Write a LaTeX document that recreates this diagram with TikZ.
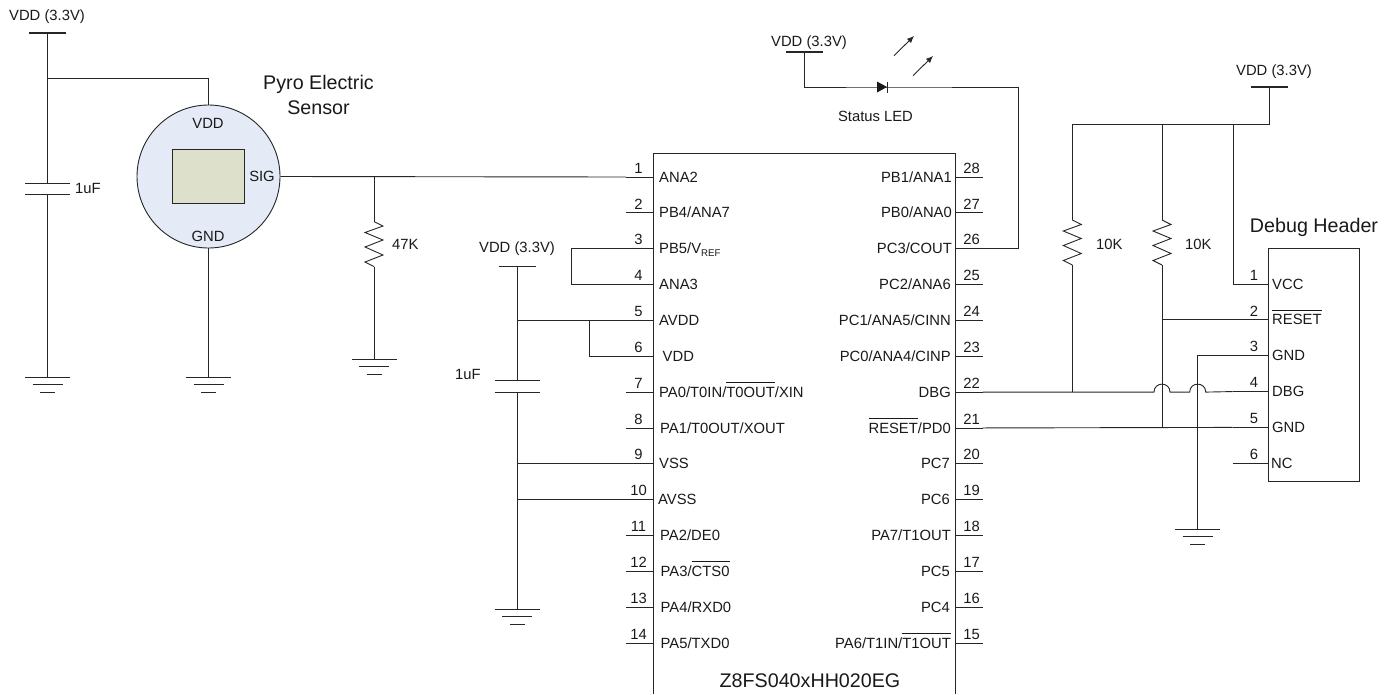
\documentclass[tikz,border=0pt]{standalone}
\usepackage{fontspec}
\usepackage{tikz}
\usetikzlibrary{arrows.meta}
\setmainfont{Liberation Sans}

\newcommand{\nbar}[1]{\ensuremath{\overline{\hbox{\vrule height 0.92em width 0pt #1}}}}

\tikzset{
  wire/.style={line width=0.9pt,draw=black!85},
  small/.style={font=\fontsize{14.8}{17}\selectfont,text=black!90,inner sep=0pt},
  big/.style={font=\fontsize{19.7}{25}\selectfont,text=black!90,inner sep=0pt,align=center},
  gndsym/.pic={\draw[wire] (-22.5,0) -- (22.5,0);
    \draw[wire] (-15,7.5) -- (15,7.5);
    \draw[wire] (-7.5,15) -- (7.5,15);},
  vddsym/.pic={\draw[line width=1.2pt,draw=black!85] (-18.5,0) -- (18.5,0);},
  capsym/.pic={\draw[wire] (-22.5,0) -- (22.5,0);
    \draw[wire] (-22.5,11.5) -- (22.5,11.5);},
  ressym/.pic={\draw[wire] (0,0) -- (9,4.5) -- (-9,11) -- (9,18.5) -- (-9,25.5) -- (9,33.5) -- (-9,40.5) -- (0,45);}
}

\begin{document}
\begin{tikzpicture}[x=1pt,y=-1pt]
    \useasboundingbox (0,0) rectangle (1395,694);

    % chip outline, cut by the page bottom
    \draw[wire] (653,694) -- (653,153.5) -- (955.5,153.5) -- (955.5,694);
    \node[big] (chipname) at (810,681) {Z8FS040xHH020EG};

    \foreach \n/\lx/\lbl in {1/659/ANA2,2/659/{PB4/ANA7},3/659/{PB5/V{\raisebox{-0.3ex}{\fontsize{9.7}{10}\selectfont REF}}},
      4/659/ANA3,5/659/AVDD,6/662.5/VDD,7/659/{PA0/T0IN/\nbar{T0OUT}/XIN},8/660/{PA1/T0OUT/XOUT},
      9/659/VSS,10/658/AVSS,11/660/{PA2/DE0},12/660.5/{PA3/\nbar{CTS0}},13/660.5/{PA4/RXD0},14/660.5/{PA5/TXD0}}
    {
      \pgfmathsetmacro{\py}{177+(\n-1)*35.85}
      \coordinate (pin\n) at (626,\py);
      \draw[wire] (pin\n) -- (653,\py);
      \node[small] (num\n) at (638.5,\py-9) {\n};
      \node[small,anchor=mid west] (lbl\n) at (\lx,\py+2.5) {\lbl};
    }

    \foreach \n/\lx/\lbl in {28/952/{PB1/ANA1},27/952/{PB0/ANA0},26/952/{PC3/COUT},25/951/{PC2/ANA6},
      24/951/{PC1/ANA5/CINN},23/951/{PC0/ANA4/CINP},22/951/DBG,21/951/{\nbar{RESET}/PD0},20/950/PC7,
      19/950/PC6,18/951/{PA7/T1OUT},17/950/PC5,16/950/PC4,15/951/{PA6/T1IN/\nbar{T1OUT}}}
    {
      \pgfmathsetmacro{\py}{177+(28-\n)*35.85}
      \coordinate (pin\n) at (982.5,\py);
      \draw[wire] (pin\n) -- (955.5,\py);
      \node[small] (num\n) at (971.5,\py-9) {\n};
      \node[small,anchor=mid east] (lbl\n) at (\lx,\py+2.5) {\lbl};
    }

    % sensor
    \node[circle,wire,fill={rgb,255:red,228;green,235;blue,246},minimum size=143pt,inner sep=0pt] (sensor) at (208.5,176.5) {};
    \node[rectangle,wire,fill={rgb,255:red,221;green,225;blue,204},minimum width=72pt,minimum height=53.5pt,inner sep=0pt] (element) at (208.5,176.5) {};
    \node[small] (sensvdd) at (208,123) {VDD};
    \node[small] (senssig) at (262,176) {SIG};
    \node[small] (sensgnd) at (208,236) {GND};
    \node[big] (sensname) at (318.5,94.5) {Pyro Electric\\Sensor};

    % supply and decoupling on the left
    \coordinate (vdda) at (47.5,33);
    \coordinate (capa) at (47.5,183);
    \coordinate (capab) at (47.5,194.5);
    \coordinate (gnda) at (47.5,377);
    \coordinate (gndb) at (208.5,377);
    \pic at (vdda) {vddsym};
    \pic at (capa) {capsym};
    \pic at (gnda) {gndsym};
    \pic at (gndb) {gndsym};
    \node[small] (vddalbl) at (47,17) {VDD (3.3V)};
    \node[small,anchor=mid west] (capalbl) at (75,190.5) {1uF};
    \draw[wire] (vdda) -- (capa);
    \draw[wire] (capab) -- (gnda);
    \draw[wire] (47.5,78) -| (sensor.north);
    \draw[wire] (sensor.south) -- (gndb);

    % signal line and pull down
    \coordinate (resat) at (374,221.5);
    \coordinate (resab) at (374,266.5);
    \coordinate (gndc) at (374,359);
    \pic at (resat) {ressym};
    \pic at (gndc) {gndsym};
    \node[small,anchor=mid west] (resalbl) at (392,246.5) {47K};
    \draw[wire] (sensor.east) -- (pin1);
    \draw[wire] (374,177) -- (resat);
    \draw[wire] (resab) -- (gndc);

    % supply at the analog pins
    \coordinate (vddb) at (517,266.7);
    \coordinate (capb) at (517,380.5);
    \coordinate (capbb) at (517,392);
    \coordinate (gndd) at (517,609);
    \pic at (vddb) {vddsym};
    \pic at (capb) {capsym};
    \pic at (gndd) {gndsym};
    \node[small] (vddblbl) at (517,249) {VDD (3.3V)};
    \node[small,anchor=mid west] (capblbl) at (455,376.5) {1uF};
    \draw[wire] (vddb) -- (capb);
    \draw[wire] (capbb) -- (gndd);
    \draw[wire] (517,0 |- pin5) -- (pin5);
    \draw[wire] (517,0 |- pin9) -- (pin9);
    \draw[wire] (517,0 |- pin10) -- (pin10);
    \draw[wire] (589,0 |- pin5) |- (pin6);
    \draw[wire] (pin3) -- (571,0 |- pin3) |- (pin4);

    % status LED
    \coordinate (vddc) at (804,52);
    \coordinate (ledbar) at (887,87);
    \pic at (vddc) {vddsym};
    \node[small] (vddclbl) at (809,43) {VDD (3.3V)};
    \node[small] (ledlbl) at (875.5,116) {Status LED};
    \draw[wire] (vddc) |- (ledbar) -- (1018.5,87) |- (pin26);
    \fill[black!90] (877,81.5) -- (ledbar) -- (877,92.5) -- cycle;
    \draw[wire] (887,81.5) -- (887,92.5);
    \draw[wire,-{Latex[length=7pt,width=6pt]}] (894,55.7) -- (914,36);
    \draw[wire,-{Latex[length=7pt,width=6pt]}] (913,75.7) -- (933,56);

    % debug header
    \node[rectangle,wire,minimum width=90.5pt,minimum height=232.5pt,inner sep=0pt] (header) at (1313.75,365) {};
    \node[big] (headerlbl) at (1314,227) {Debug Header};
    \foreach \n/\lx/\lbl in {1/1272/VCC,2/1272/\nbar{RESET},3/1272/GND,4/1272/DBG,5/1272/GND,6/1271/NC}
    {
      \pgfmathsetmacro{\py}{284+(\n-1)*35.85}
      \coordinate (hd\n) at (1232.5,\py);
      \draw[wire] (hd\n) -- (1268.5,\py);
      \node[small] (hdnum\n) at (1254,\py-9) {\n};
      \node[small,anchor=mid west] (hdlbl\n) at (\lx,\py+2.5) {\lbl};
    }

    % pull ups and their supply
    \coordinate (vddd) at (1269,87);
    \coordinate (resbt) at (1072.3,220);
    \coordinate (resbb) at (1072.3,265);
    \coordinate (resct) at (1162,220);
    \coordinate (rescb) at (1162,265);
    \pic at (vddd) {vddsym};
    \pic at (resbt) {ressym};
    \pic at (resct) {ressym};
    \node[small] (vdddlbl) at (1274,72) {VDD (3.3V)};
    \node[small,anchor=mid west] (resblbl) at (1096,246.5) {10K};
    \node[small,anchor=mid west] (resclbl) at (1185,246.5) {10K};
    \draw[wire] (vddd) |- (1072.3,124) -- (resbt);
    \draw[wire] (1162,124) -- (resct);
    \draw[wire] (1233,124) |- (hd1);
    \draw[wire] (resbb) -- (1072.3,0 |- pin22);
    \draw[wire] (rescb) -- (1162,0 |- pin21);
    \draw[wire] (1162,0 |- hd2) -- (hd2);

    % lines from the chip into the header
    \coordinate (gnde) at (1197.7,529);
    \pic at (gnde) {gndsym};
    \draw[wire] (hd3) -- (1197.7,0 |- hd3) -- (gnde);
    \draw[wire] (pin21) -- (hd5);
    \draw[wire] (pin22) -- (1154,0 |- pin22)
      .. controls (1154,381.5) and (1170,381.5) .. (1170,0 |- pin22)
      -- (1189.7,0 |- pin22)
      .. controls (1189.7,381.5) and (1205.7,381.5) .. (1205.7,0 |- pin22)
      -- (hd4);
\end{tikzpicture}
\end{document}
